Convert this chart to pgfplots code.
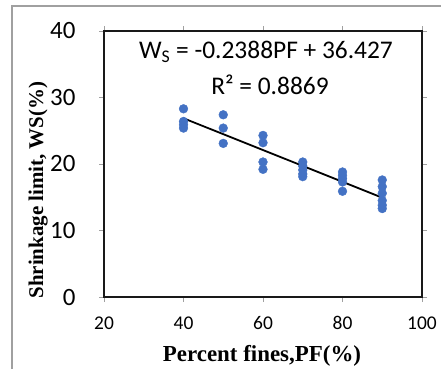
\documentclass[border=0pt]{standalone}
\usepackage{pgfplots}
\pgfplotsset{compat=1.18}
\usepackage{fontspec}
\setmainfont{Liberation Serif}
\newfontfamily\calibri{Carlito}
\definecolor{ptblue}{RGB}{68,114,196}
\definecolor{framegray}{RGB}{160,160,160}
\begin{document}
\begin{tikzpicture}[x=1bp,y=1bp]
\useasboundingbox (0,0) rectangle (441,369);
\draw[framegray, line width=1.5bp] (12,0) -- (12,363) -- (441,363);
\begin{axis}[
  at={(104bp,72bp)}, anchor=south west,
  scale only axis, width=318bp, height=266bp,
  xmin=20, xmax=100, ymin=0, ymax=40,
  xtick={20,40,60,80,100}, ytick={0,10,20,30,40},
  tick align=outside, major tick length=5bp,
  tick style={framegray, line width=1bp},
  axis line style={black!90, line width=2bp},
  /pgf/number format/assume math mode=true,
  xticklabel style={font=\calibri\fontsize{19.5}{19.5}\selectfont, yshift=-11bp},
  yticklabel style={font=\calibri\fontsize{25}{25}\selectfont, xshift=-20bp},
  clip=false,
]
\addplot[ptblue, only marks, mark=*, mark size=4.4bp] coordinates {
  (40,28.3) (40,26.4) (40,25.9) (40,25.4)
  (50,27.4) (50,25.4) (50,23.1)
  (60,24.3) (60,23.2) (60,20.3) (60,19.2)
  (70,20.3) (70,19.7) (70,19.1) (70,18.5) (70,18.1)
  (80,18.8) (80,18.3) (80,17.8) (80,17.3) (80,15.9)
  (90,17.6) (90,16.6) (90,15.6) (90,14.5) (90,13.8) (90,13.3)
};
\addplot[black, line width=1.8bp] coordinates {(40,26.875) (90,14.935)};
\end{axis}
\node[font=\bfseries\fontsize{23}{23}\selectfont, anchor=base] at (262,8) {Percent fines,PF(\%)};
\node[font=\bfseries\fontsize{21}{21}\selectfont, anchor=base, rotate=90] at (43,179) {Shrinkage limit, WS(\%)};
\node[font=\calibri\fontsize{25.5}{25.5}\selectfont] at (266,317) {W\textsubscript{S} = -0.2388PF + 36.427};
\node[font=\calibri\fontsize{25.5}{25.5}\selectfont] at (270,284) {R² = 0.8869};
\end{tikzpicture}
\end{document}
